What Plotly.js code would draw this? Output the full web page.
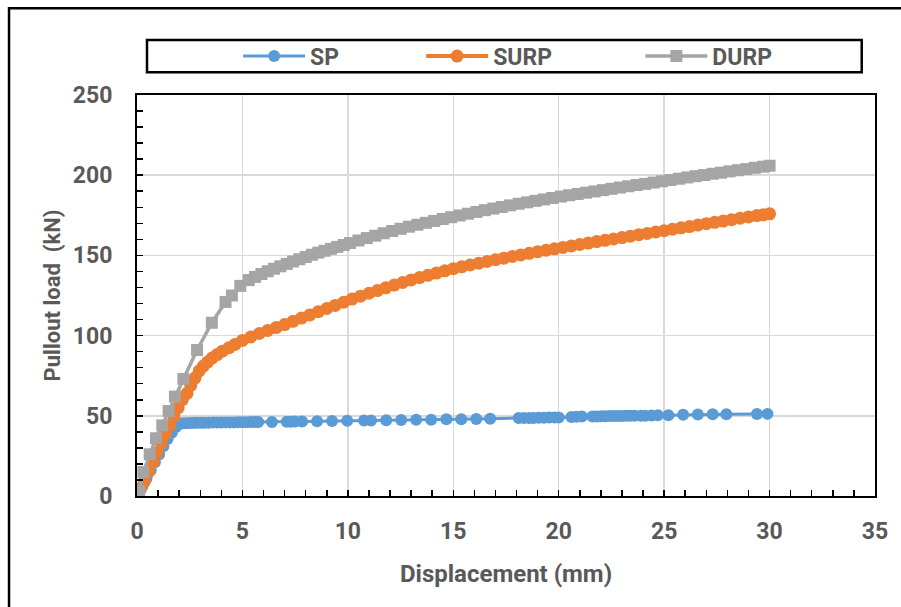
<!DOCTYPE html>
<html>
<head>
<meta charset="utf-8">
<script src="https://cdn.plot.ly/plotly-3.0.1.min.js"></script>
<style>html,body{margin:0;padding:0;background:#fff;}#chart{width:901px;height:607px;}</style>
</head>
<body>
<div id="chart"></div>
<script>
// ---- data ----
var spX = [0,0.1,0.25,0.45,0.65,0.85,1.05,1.25,1.45,1.65,1.85,2.0,2.15,2.3,2.45,2.6,2.75,2.9,3.05,3.2,3.4,3.6,3.8,4.0,4.2,4.4,4.6,4.8,5.0,5.2,5.4,5.6,5.75,6.4,7.1,7.3,7.5,7.83,8.54,9.25,9.97,10.77,11.1,11.82,12.53,13.24,13.95,14.67,15.38,16.09,16.75,18.1,18.35,18.6,18.8,19.05,19.3,19.55,19.8,20.0,20.6,20.85,21.1,21.6,21.8,22.0,22.2,22.4,22.6,22.8,23.0,23.2,23.4,23.6,23.9,24.1,24.4,24.7,25.2,25.9,26.6,27.3,27.95,29.4,29.9];
var spY = [0,2,6,11,16,21,26,31,35.5,39.5,43,44.8,45.3,45.4,45.5,45.5,45.6,45.6,45.6,45.7,45.7,45.8,45.8,45.8,45.9,45.9,45.9,46.0,46.0,46.0,46.1,46.1,46.1,46.2,46.3,46.3,46.4,46.5,46.6,46.7,46.9,47.0,47.1,47.2,47.4,47.5,47.6,47.8,47.9,48.0,48.2,48.6,48.6,48.7,48.7,48.8,48.8,48.9,48.9,49.0,49.3,49.4,49.5,49.6,49.6,49.7,49.7,49.8,49.8,49.9,49.9,50.0,50.0,50.0,50.1,50.1,50.2,50.3,50.4,50.6,50.8,50.9,51.0,51.1,51.2];

var surpX = [0,0.15,0.35,0.55,0.75,0.95,1.15,1.35,1.55,1.75,1.95,2.15,2.37,2.55,2.75,2.95,3.15,3.35,3.56,3.8,4.05,4.37,4.65,5.0,5.4,5.8,6.2,6.6,7.0,7.4,7.8,8.2,8.6,9.0,9.4,9.8,10.2,10.6,11.0,11.4,11.8,12.2,12.6,13.0,13.4,13.8,14.2,14.6,15.0,15.4,15.8,16.2,16.6,17.0,17.4,17.8,18.2,18.6,19.0,19.4,19.8,20.2,20.6,21.0,21.4,21.8,22.2,22.6,23.0,23.4,23.8,24.2,24.6,25.0,25.4,25.8,26.2,26.6,27.0,27.4,27.8,28.2,28.6,29.0,29.4,29.7,30.0];
var surpY = [0,4,9,15,21,27,33,38.5,44,49.5,55,60,64,69,73.5,78,81,83.5,86,88.2,90.3,92.5,94.5,97.0,99.2,101.3,103.2,105.0,106.9,108.9,110.9,112.9,114.9,116.9,118.8,120.8,122.8,124.6,126.4,128.1,129.8,131.5,133.1,134.7,136.2,137.6,139.0,140.4,141.7,142.9,144.0,145.1,146.2,147.3,148.3,149.3,150.3,151.3,152.3,153.2,154.1,155.0,155.9,156.8,157.7,158.6,159.4,160.3,161.1,162.0,162.9,163.7,164.6,165.4,166.3,167.2,168.0,168.9,169.8,170.6,171.4,172.3,173.2,174.0,174.8,175.3,175.9];

var durpX = [0,0.1,0.3,0.6,0.9,1.2,1.5,1.8,2.2,2.85,3.55,4.2,4.5,4.9,5.3,5.6,5.9,6.2,6.5,6.8,7.1,7.4,7.7,8.0,8.3,8.6,8.9,9.2,9.5,9.8,10.1,10.5,10.9,11.3,11.7,12.1,12.5,12.9,13.3,13.7,14.1,14.5,14.9,15.3,15.7,16.1,16.5,16.9,17.3,17.7,18.1,18.5,18.9,19.3,19.7,20.1,20.5,20.9,21.3,21.7,22.1,22.5,22.9,23.3,23.7,24.1,24.5,24.9,25.3,25.7,26.1,26.5,26.9,27.3,27.7,28.1,28.5,28.9,29.3,29.7,30.0];
var durpY = [0,3,15,26,36,44,53,62,73,91,108,121,125,131,134.6,136.6,138.4,140.1,141.7,143.2,144.7,146.2,147.6,149.0,150.4,151.7,152.9,154.1,155.3,156.5,157.7,159.3,160.8,162.3,163.8,165.2,166.6,167.9,169.1,170.3,171.5,172.7,173.8,174.9,176.0,177.1,178.2,179.2,180.2,181.2,182.2,183.1,184.0,184.9,185.8,186.7,187.5,188.3,189.1,189.9,190.7,191.5,192.3,193.1,193.9,194.6,195.4,196.2,197.0,197.8,198.6,199.4,200.1,200.9,201.6,202.4,203.1,203.8,204.6,205.3,205.9];

var seriesNames = ['SP','SURP','DURP'];
var xTitle = 'Displacement (mm)';
var yTitle = 'Pullout load\u00a0 (kN)';

// ---- chart ----
var FONT = 'Roboto, Open Sans, sans-serif';
var GREY = '#595959';

var traces = [
  {x: spX, y: spY, name: seriesNames[0], type: 'scatter', mode: 'lines+markers',
   line: {color: '#5B9BD5', width: 3}, marker: {symbol: 'circle', size: 12, color: '#5B9BD5'}, legend: 'legend'},
  {x: surpX, y: surpY, name: seriesNames[1], type: 'scatter', mode: 'lines+markers',
   line: {color: '#ED7D31', width: 4}, marker: {symbol: 'circle', size: 13, color: '#ED7D31'}, legend: 'legend2'},
  {x: durpX, y: durpY, name: seriesNames[2], type: 'scatter', mode: 'lines+markers',
   line: {color: '#A5A5A5', width: 3.5}, marker: {symbol: 'square', size: 12, color: '#A5A5A5'}, legend: 'legend3'}
];

function leg(x) {
  return {x: x, xanchor: 'left', y: 1.097, yanchor: 'middle', orientation: 'h',
          bgcolor: 'rgba(0,0,0,0)', borderwidth: 0, itemwidth: 62,
          font: {family: FONT, size: 23, color: GREY, weight: 'bold'}};
}

var layout = {
  width: 901, height: 607,
  margin: {l: 137, r: 26, t: 95, b: 111, pad: 0},
  paper_bgcolor: '#ffffff', plot_bgcolor: '#ffffff',
  showlegend: true,
  legend: leg(0.137),
  legend2: leg(0.385),
  legend3: leg(0.682),
  xaxis: {
    range: [0, 35], dtick: 5, tick0: 0,
    showgrid: true, gridcolor: '#d9d9d9', gridwidth: 1.5,
    zeroline: false, showline: true, linecolor: '#000', linewidth: 2, mirror: true,
    ticks: 'inside', ticklen: 6, tickwidth: 1.5, tickcolor: '#000',
    minor: {dtick: 1, ticks: 'inside', ticklen: 6, tickwidth: 1.5, tickcolor: '#000', showgrid: false},
    ticklabelstandoff: 13,
    tickfont: {family: FONT, size: 23, color: GREY, weight: 'bold'},
    title: {text: xTitle, standoff: 22, font: {family: FONT, size: 24, color: GREY, weight: 'bold'}}
  },
  yaxis: {
    range: [0, 250], dtick: 50, tick0: 0,
    showgrid: true, gridcolor: '#d9d9d9', gridwidth: 1.5,
    zeroline: false, showline: true, linecolor: '#000', linewidth: 2, mirror: true,
    ticks: 'inside', ticklen: 6, tickwidth: 1.5, tickcolor: '#000',
    minor: {dtick: 10, ticks: 'inside', ticklen: 6, tickwidth: 1.5, tickcolor: '#000', showgrid: false},
    ticklabelstandoff: 18,
    tickfont: {family: FONT, size: 23, color: GREY, weight: 'bold'},
    title: {text: yTitle, standoff: 6, font: {family: FONT, size: 22, color: GREY, weight: 'bold'}}
  },
  shapes: [
    // outer chart frame (right and bottom edges fall outside the picture)
    {type: 'rect', xref: 'paper', yref: 'paper', x0: -0.1734, x1: 1.1, y0: -0.4, y1: 1.2165,
     line: {color: '#000', width: 2.5}, fillcolor: 'rgba(0,0,0,0)', layer: 'below'},
    // legend box
    {type: 'rect', xref: 'paper', yref: 'paper', x0: 0.01355, x1: 0.982, y0: 1.057, y1: 1.137,
     line: {color: '#000', width: 2.5}, fillcolor: 'rgba(0,0,0,0)'}
  ]
};

Plotly.newPlot('chart', traces, layout, {displayModeBar: false, staticPlot: true});
</script>
</body>
</html>
